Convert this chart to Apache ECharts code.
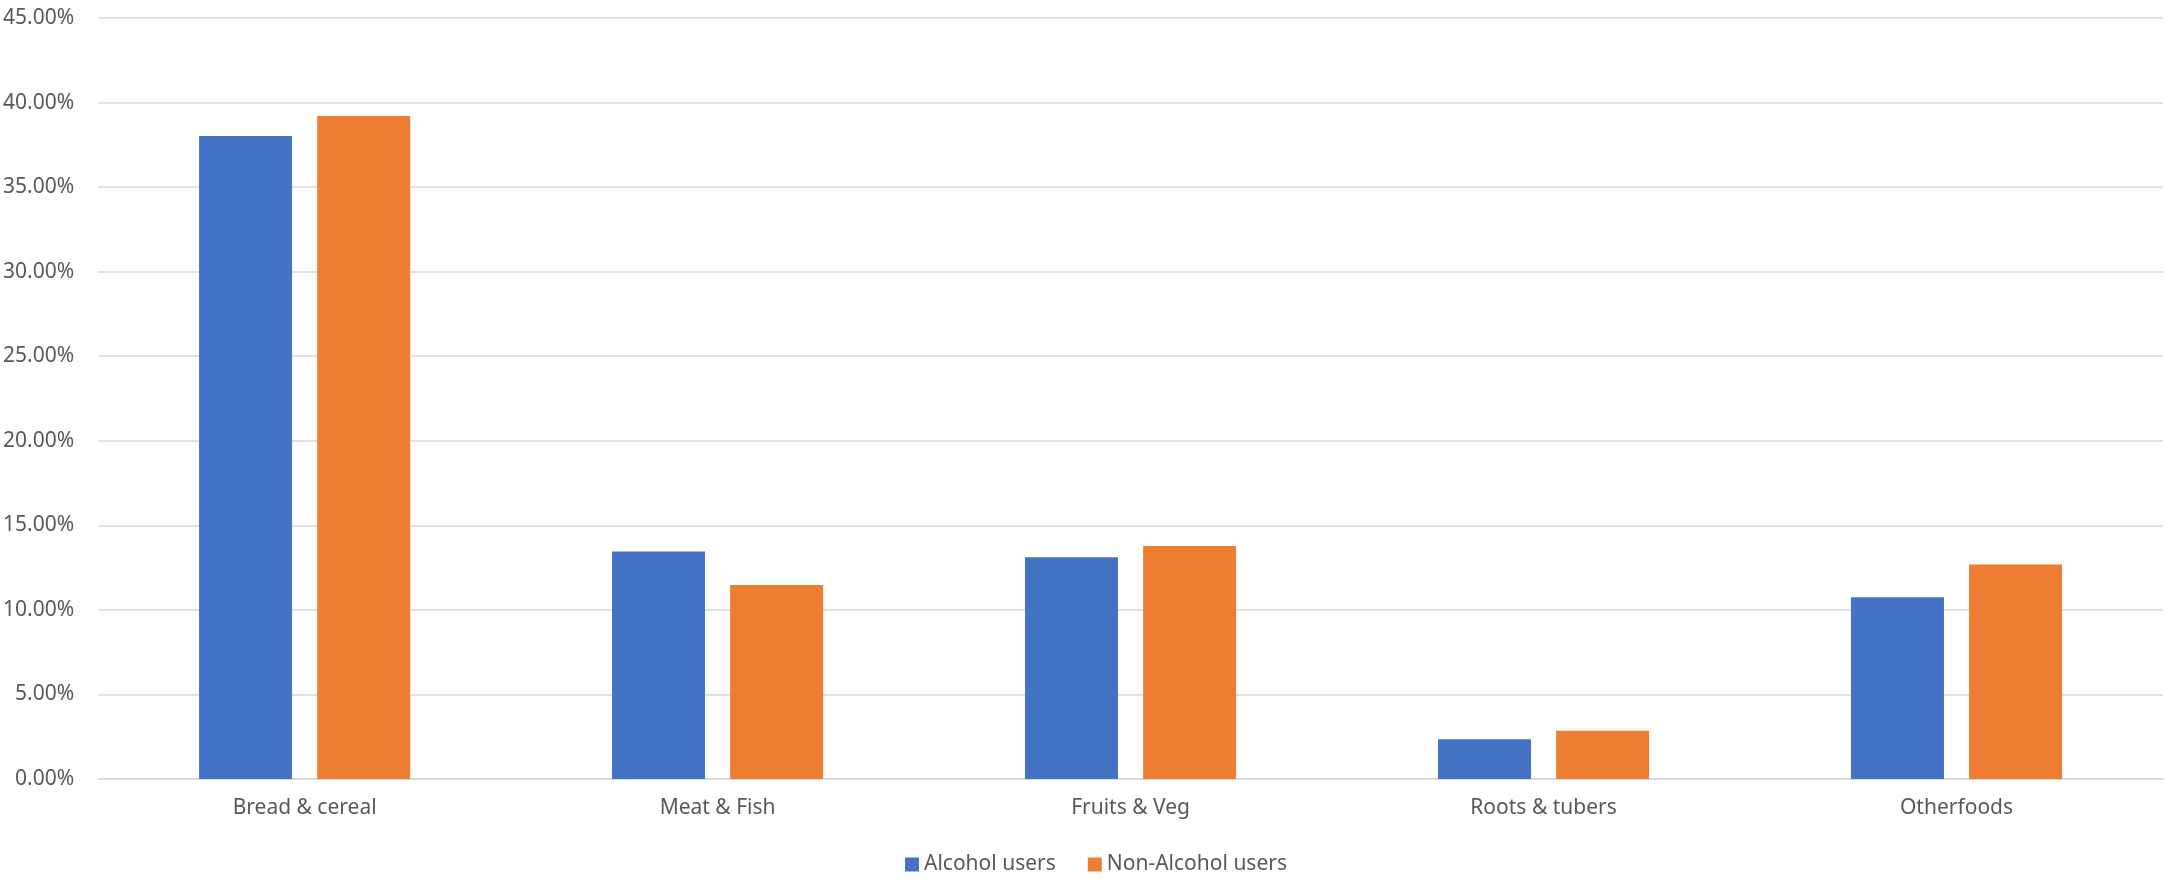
<!DOCTYPE html>
<html>
<head>
<meta charset="utf-8">
<script src="https://cdn.jsdelivr.net/npm/echarts@6/dist/echarts.min.js"></script>
<style>
  html, body { margin: 0; padding: 0; background: #fff; }
  #chart { width: 2165px; height: 879px; }
</style>
</head>
<body>
<div id="chart"></div>
<script>
// food groups and shares (fraction of total)
var categories = ['Bread & cereal', 'Meat & Fish', 'Fruits & Veg', 'Roots & tubers', 'Otherfoods'];
var alcoholUsers = [0.3802, 0.1346, 0.1311, 0.0235, 0.1074];
var nonAlcoholUsers = [0.3920, 0.1147, 0.1378, 0.0286, 0.1269];
var seriesNames = ['Alcohol users', 'Non-Alcohol users'];

var textColor = '#595959';
var font = 'Noto Sans';

var chart = echarts.init(document.getElementById('chart'));
chart.setOption({
  animation: false,
  color: ['#4472C4', '#ED7D31'],
  grid: { left: 97, right: 2, top: 18, bottom: 100, containLabel: false },
  legend: {
    data: seriesNames,
    top: 849,
    left: 900,
    itemWidth: 14,
    itemHeight: 14,
    itemGap: 32,
    icon: 'rect',
    textStyle: { color: textColor, fontSize: 21, fontFamily: font }
  },
  xAxis: {
    type: 'category',
    data: categories,
    axisTick: { show: false },
    axisLine: { lineStyle: { color: '#d9d9d9', width: 1.5 } },
    axisLabel: { color: textColor, fontSize: 21, fontFamily: font, margin: 19 }
  },
  yAxis: {
    type: 'value',
    min: 0,
    max: 0.45,
    interval: 0.05,
    axisLine: { show: false },
    axisTick: { show: false },
    splitLine: { lineStyle: { color: '#d9d9d9', width: 1.5 } },
    axisLabel: {
      color: textColor, fontSize: 21, fontFamily: font, margin: 24,
      formatter: function (v) { return (v * 100).toFixed(2) + '%'; }
    }
  },
  series: [
    { name: seriesNames[0], type: 'bar', data: alcoholUsers, barWidth: 93, barGap: '27%' },
    { name: seriesNames[1], type: 'bar', data: nonAlcoholUsers, barWidth: 93, barGap: '27%' }
  ]
});
</script>
</body>
</html>
